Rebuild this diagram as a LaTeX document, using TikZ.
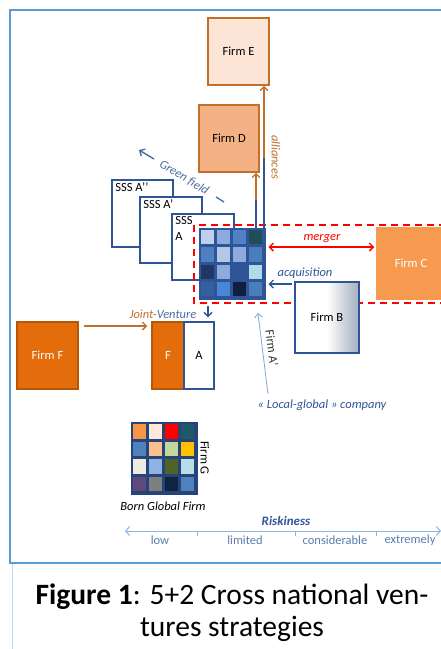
\documentclass[tikz,border=0pt]{standalone}
\usepackage{fontspec}
\setmainfont{Carlito}
\usetikzlibrary{arrows.meta}
\definecolor{frameblue}{HTML}{5B9BD5}
\definecolor{capblue}{HTML}{BDD7EE}
\definecolor{dblue}{HTML}{2F5597}
\definecolor{navy}{HTML}{1F3864}
\definecolor{brownor}{HTML}{C0702A}
\definecolor{peachE}{HTML}{FCE4D6}
\definecolor{peachD}{HTML}{F4B183}
\definecolor{orF}{HTML}{E46C0A}
\definecolor{orC}{HTML}{F59A4E}
\definecolor{gfblue}{HTML}{4E6E9E}
\definecolor{ltblue}{HTML}{7FA6D8}
\definecolor{riskblue}{HTML}{8EB4E3}
\definecolor{lblblue}{HTML}{5A7BAE}
\definecolor{grayB}{HTML}{5A6E8C}
\pgfdeclarehorizontalshading{bshade}{100bp}{color(0bp)=(white); color(38bp)=(white); color(50bp)=(white); color(70bp)=(grayB!45); color(100bp)=(grayB)}
\tikzset{
  firmbox/.style={draw, line width=1.5pt, inner sep=0pt, font=\fontsize{12.5}{14}\selectfont},
  sssbox/.style={draw=dblue, fill=white, line width=1.6pt, inner sep=0pt},
  arr/.style={line width=1.4pt, -{Straight Barb[length=4pt,width=8pt]}},
  darr/.style={line width=1.4pt, {Straight Barb[length=4pt,width=8pt]}-{Straight Barb[length=4pt,width=8pt]}},
  lbl/.style={font=\fontsize{12.5}{14}\selectfont\itshape, inner sep=1pt}
}
\begin{document}
\begin{tikzpicture}[x=1pt,y=-1pt,font=\fontsize{12.5}{14}\selectfont]
\useasboundingbox (0,0) rectangle (441,649);
\clip (0,0) rectangle (441,649);
% frames
\draw[capblue, line width=1pt] (12,563) rectangle (460,680);
\draw[frameblue, line width=1.6pt] (10,10) rectangle (460,563);

% green field (drawn first)
\coordinate (gfs) at (224,202);
\coordinate (gfm2) at (216,197);
\coordinate (gfm1) at (154,159);
\coordinate (gfe) at (139,150);
\draw[gfblue, line width=1.4pt] (gfs) -- (gfm2);
\draw[gfblue, arr] (gfm1) -- (gfe);
\path (gfs) -- node[pos=0.47, sloped, lbl, text=gfblue] (gft) {Green field} (gfe);

% firms E and D
\node[firmbox, draw=brownor, fill=peachE, minimum width=61pt, minimum height=67pt] (firmE) at (238.5,51.5) {Firm E};
\node[firmbox, draw=brownor, fill=peachD, minimum width=60pt, minimum height=67pt] (firmD) at (229,138.5) {Firm D};

% SSS boxes
\node[sssbox, minimum width=61pt, minimum height=67pt] (sss2) at (142.5,213.5) {};
\node[anchor=north west, inner sep=0pt] (t2) at ([shift={(4,3)}]sss2.north west) {SSS A’’};
\node[sssbox, minimum width=62pt, minimum height=66pt] (sss1) at (171,230) {};
\node[anchor=north west, inner sep=0pt] (t1) at ([shift={(4,3)}]sss1.north west) {SSS A’};
\node[sssbox, minimum width=62pt, minimum height=66pt] (sss0) at (203,247) {};
\node[anchor=north west, inner sep=0pt, align=left] (t0) at ([shift={(4,3)}]sss0.north west) {SSS\\[2pt]A};

% red dashed region
\draw[red, dashed, line width=1.8pt, dash pattern=on 7pt off 5pt] (194,225) rectangle (470,303);

% matrix A
\node[draw=dblue, fill=dblue, line width=1pt, minimum width=66pt, minimum height=71pt, inner sep=0pt] (mat) at (232,263.5) {};
\foreach \r/\c/\col in {0/0/BDD0EE,0/1/8FAADC,0/2/4F81C7,0/3/1F4E5A,
                       1/0/4F7FC0,1/1/B4C7E7,1/2/8FAADC,1/3/4A7EBB,
                       2/0/203864,2/1/8FAADC,2/2/2F5597,2/3/B0DCE8,
                       3/0/35609E,3/1/4A86D8,3/2/0F1F3F,3/3/4A7EBB}{
  \definecolor{tmpc}{HTML}{\col}
  \fill[tmpc] ([shift={(2.5+\c*16,2.5+\r*17.25)}]mat.north west) rectangle ++(13,14.25);
}

% alliances connectors
\coordinate (al1) at (264,158);
\coordinate (al2) at (256,200);
\draw[dblue, line width=1.4pt] (mat.north -| al1) -- ([yshift=3]al1);
\draw[brownor, arr] (al1) -- (firmE.south -| al1);
\draw[dblue, line width=1.4pt] (mat.north -| al2) -- ([yshift=3]al2);
\draw[brownor, arr] (al2) -- (firmD.south -| al2);
\node[lbl, text=brownor, rotate=-90] (allt) at (276,157) {alliances};

% Firm C and merger
\node[firmbox, draw=orC, fill=orC, text=white, minimum width=68pt, minimum height=71pt] (firmC) at (411,263.5) {Firm C};
\coordinate (my) at (300,247);
\draw[red, darr, shorten <=3pt, shorten >=2pt] (mat.east |- my) -- (firmC.west |- my);
\node[lbl, text=red] (mt) at (322,239) {merger};

% Firm B and acquisition
\node[firmbox, draw=dblue, shading=bshade, minimum width=64pt, minimum height=71pt] (firmB) at (327,317.5) {};
\node (bt) at (firmB.center) {Firm B};
\coordinate (ay) at (300,284);
\draw[dblue, arr, shorten <=2pt, shorten >=3pt] (firmB.west |- ay) -- (mat.east |- ay);
\node[lbl, text=dblue] (at) at (305,273) {acquisition};

% Firm F and joint venture
\node[firmbox, draw=orF!80!black, fill=orF, text=white, minimum width=61pt, minimum height=67pt] (firmF) at (47.5,355.5) {Firm F};
\node[firmbox, draw=orF!80!black, fill=orF, text=white, minimum width=32pt, minimum height=67pt] (bF) at (168,355.5) {F};
\node[firmbox, draw=dblue, fill=white, minimum width=30pt, minimum height=67pt] (bA) at (199,355.5) {A};
\coordinate (jv) at (100,326);
\draw[brownor, arr, shorten <=5pt, shorten >=4pt] (firmF.east |- jv) -- (bF.west |- jv);
\node[lbl] (jvt) at (163,314) {\textcolor{brownor}{Joint-}\textcolor{gfblue}{Venture}};
\coordinate (ja) at (208,306);
\draw[dblue, arr, shorten >=4pt] (ja) -- (bA.north -| ja);

% local-global
\node[lbl, text=dblue] (lg) at (322,405) {« Local-global » company};
\coordinate (fa1) at (268,394);
\coordinate (fa2) at (258,313);
\draw[ltblue, line width=0.8pt, -{Straight Barb[length=4pt,width=8pt]}] (fa1) -- (fa2);
\node[rotate=-83, inner sep=0pt, text=black!80] (fat) at (272,348) {Firm A’};

% Firm G
\node[draw=dblue!80!black, fill=dblue!80!black, line width=1pt, minimum width=66pt, minimum height=72pt, inner sep=0pt] (matG) at (164,458) {};
\foreach \r/\c/\col in {0/0/F79646,0/1/FDE9D9,0/2/FF0000,0/3/215868,
                       1/0/4F81BD,1/1/FAC090,1/2/C3D69B,1/3/FFC000,
                       2/0/EEECE1,2/1/8DB3E2,2/2/4F6228,2/3/B7DEE8,
                       3/0/5F497A,3/1/7F7F7F,3/2/0F243E,3/3/4F81BD}{
  \definecolor{tmpc}{HTML}{\col}
  \fill[tmpc] ([shift={(2.5+\c*16,2.5+\r*17.5)}]matG.north west) rectangle ++(13,14.5);
}
\node[rotate=-90, inner sep=0pt] (gt) at (205,458) {Firm G};
\node[lbl] (bg) at (163,506) {Born Global Firm};

% riskiness
\node[font=\fontsize{13}{15}\selectfont\bfseries\itshape, text=dblue] (rt) at (286,521) {Riskiness};
\coordinate (rl) at (125,531);
\coordinate (rr) at (441,531);
\draw[riskblue, line width=1pt, {Straight Barb[length=4pt,width=9pt]}-{Straight Barb[length=4pt,width=9pt]}] (rl) -- (rr);
\foreach \x in {197,295,376} \draw[riskblue, line width=1pt] (\x,531) -- ++(0,5);
\node[text=lblblue] (r1) at (160,540) {low};
\node[text=lblblue] (r2) at (245,540) {limited};
\node[text=lblblue] (r3) at (335,540) {considerable};
\node[text=lblblue] (r4) at (410,540) {extremely};

% caption
\node[font=\fontsize{29.5}{32}\selectfont, align=center] (cap) at (232,613) {\textbf{Figure 1}: 5+2 Cross national ven-\\tures strategies};
\end{tikzpicture}
\end{document}
